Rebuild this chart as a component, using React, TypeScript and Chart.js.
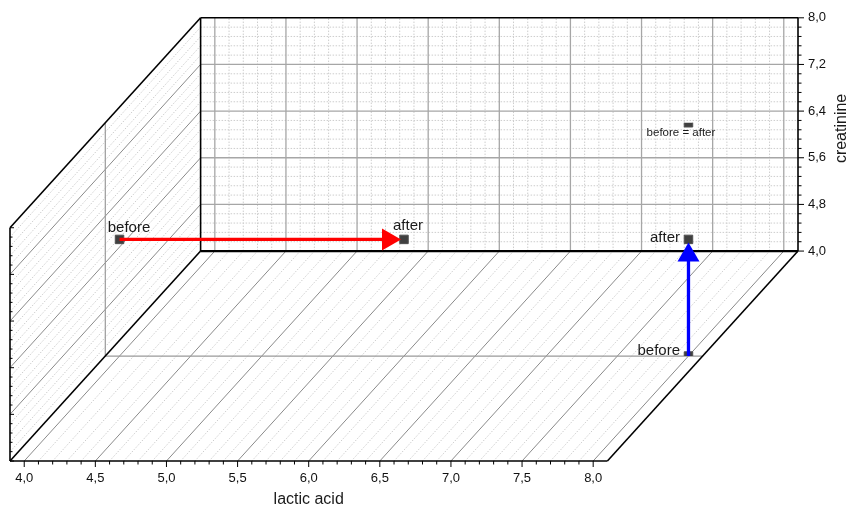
import React, { useEffect, useRef } from 'react';
import { Chart, registerables } from 'chart.js';

Chart.register(...registerables);

// ---- axis ranges & ticks ----
const LACTIC_MIN = 3.9;
const LACTIC_MAX = 8.1;
const CREATININE_MIN = 4.0;
const CREATININE_MAX = 8.0;
const lacticTicks = [4.0, 4.5, 5.0, 5.5, 6.0, 6.5, 7.0, 7.5, 8.0];
const creatinineTicks = [4.0, 4.8, 5.6, 6.4, 7.2, 8.0];
const LACTIC_MINOR_STEP = 0.1;
const CREATININE_MINOR_STEP = 0.16;

// ---- data (all points lie on the middle depth plane) ----
const pointLabels = ['before', 'after', 'before', 'after', 'before = after'];
const lacticAcid = [4.0, 6.0, 8.0, 8.0, 8.0];
const creatinine = [6.0, 6.0, 4.0, 6.0, 8.0];
const PLANE_DEPTH = 0.5;
const arrowFrom = [0, 2];
const arrowTo = [1, 3];

// ---- projection of the depth axis (in axis units) ----
const DEPTH_DX = 1.34; // lactic-acid units shift from front to back
const DEPTH_DY = 3.6; // creatinine units shift from front to back

// ---- styles ----
const FONT = "'Liberation Sans', Arial, Helvetica, sans-serif";
const arrowColors = ['#ff0000', '#0000ff'];
const labelStyle = [
  { dx: 9.5, dy: -12, align: 'center', size: 15 },
  { dx: 4, dy: -14, align: 'center', size: 15 },
  { dx: -8.5, dy: -5.5, align: 'right', size: 15 },
  { dx: -8.5, dy: -1.5, align: 'right', size: 15 },
  { dx: -7.5, dy: 10, align: 'center', size: 11.5 },
];

const fmt = (v: number) => v.toFixed(1).replace('.', ',');

function minorValues(min: number, max: number, step: number, majors: number[]) {
  const out: number[] = [];
  const start = majors[0];
  for (let k = -50; k <= 200; k++) {
    const v = +(start + k * step).toFixed(4);
    if (v <= min + 1e-6 || v >= max - 1e-6) continue;
    if (majors.some((m) => Math.abs(m - v) < 1e-6)) continue;
    out.push(v);
  }
  return out;
}

const lacticMinor = minorValues(LACTIC_MIN, LACTIC_MAX, LACTIC_MINOR_STEP, lacticTicks);
const creatinineMinor = minorValues(CREATININE_MIN, CREATININE_MAX, CREATININE_MINOR_STEP, creatinineTicks);

const project = (la: number, cr: number, d: number) => ({
  x: la + d * DEPTH_DX,
  y: cr - (1 - d) * DEPTH_DY,
});

function px(chart: any, la: number, cr: number, d: number): [number, number] {
  const p = project(la, cr, d);
  return [chart.scales.x.getPixelForValue(p.x), chart.scales.y.getPixelForValue(p.y)];
}

function seg(ctx: CanvasRenderingContext2D, a: [number, number], b: [number, number]) {
  ctx.beginPath();
  ctx.moveTo(a[0], a[1]);
  ctx.lineTo(b[0], b[1]);
  ctx.stroke();
}

const boxPlugin = {
  id: 'box3d',
  beforeDatasetsDraw(chart: any) {
    const ctx: CanvasRenderingContext2D = chart.ctx;
    ctx.save();
    ctx.lineCap = 'butt';
    // minor dotted grid
    ctx.strokeStyle = '#cdcdcd';
    ctx.lineWidth = 1;
    ctx.setLineDash([1.5, 1.5]);
    lacticMinor.forEach((la) => {
      seg(ctx, px(chart, la, CREATININE_MIN, 1), px(chart, la, CREATININE_MAX, 1));
      seg(ctx, px(chart, la, CREATININE_MIN, 0), px(chart, la, CREATININE_MIN, 1));
    });
    creatinineMinor.forEach((cr) => {
      seg(ctx, px(chart, LACTIC_MIN, cr, 1), px(chart, LACTIC_MAX, cr, 1));
      seg(ctx, px(chart, LACTIC_MIN, cr, 0), px(chart, LACTIC_MIN, cr, 1));
    });
    ctx.setLineDash([]);
    // major grid: back wall
    ctx.strokeStyle = '#a6a6a6';
    ctx.lineWidth = 1.3;
    lacticTicks.forEach((la) => {
      seg(ctx, px(chart, la, CREATININE_MIN, 1), px(chart, la, CREATININE_MAX, 1));
    });
    creatinineTicks.forEach((cr) => {
      if (cr === CREATININE_MIN || cr === CREATININE_MAX) return;
      seg(ctx, px(chart, LACTIC_MIN, cr, 1), px(chart, LACTIC_MAX, cr, 1));
    });
    // major grid: floor and left wall
    ctx.strokeStyle = '#8a8a8a';
    ctx.lineWidth = 1;
    lacticTicks.forEach((la) => {
      seg(ctx, px(chart, la, CREATININE_MIN, 0), px(chart, la, CREATININE_MIN, 1));
    });
    creatinineTicks.forEach((cr) => {
      if (cr === CREATININE_MIN || cr === CREATININE_MAX) return;
      seg(ctx, px(chart, LACTIC_MIN, cr, 0), px(chart, LACTIC_MIN, cr, 1));
    });
    // middle plane outline
    ctx.strokeStyle = '#9a9a9a';
    ctx.lineWidth = 1.2;
    seg(ctx, px(chart, LACTIC_MIN, CREATININE_MIN, PLANE_DEPTH), px(chart, LACTIC_MIN, CREATININE_MAX, PLANE_DEPTH));
    seg(ctx, px(chart, LACTIC_MIN, CREATININE_MIN, PLANE_DEPTH), px(chart, LACTIC_MAX, CREATININE_MIN, PLANE_DEPTH));
    // box edges
    ctx.strokeStyle = '#000';
    ctx.lineWidth = 1.6;
    const L = LACTIC_MIN, R = LACTIC_MAX, B = CREATININE_MIN, T = CREATININE_MAX;
    seg(ctx, px(chart, L, T, 1), px(chart, R, T, 1));
    seg(ctx, px(chart, L, B, 1), px(chart, L, T, 1));
    seg(ctx, px(chart, R, B, 1), px(chart, R, T, 1));
    seg(ctx, px(chart, L, T, 0), px(chart, L, T, 1));
    seg(ctx, px(chart, L, B, 0), px(chart, L, T, 0));
    seg(ctx, px(chart, L, B, 0), px(chart, L, B, 1));
    seg(ctx, px(chart, R, B, 0), px(chart, R, B, 1));
    seg(ctx, px(chart, L, B, 0), px(chart, R, B, 0));
    ctx.lineWidth = 2.2;
    seg(ctx, px(chart, L, B, 1), px(chart, R, B, 1));
    // tick marks
    ctx.lineWidth = 1;
    lacticTicks.concat(lacticMinor).forEach((la) => {
      const major = lacticTicks.includes(la);
      const p = px(chart, la, B, 0);
      seg(ctx, [p[0], p[1]], [p[0], p[1] + (major ? 6 : 3.5)]);
    });
    creatinineTicks.concat(creatinineMinor).forEach((cr) => {
      const major = creatinineTicks.includes(cr);
      const p = px(chart, R, cr, 1);
      seg(ctx, [p[0], p[1]], [p[0] + (major ? 6 : 3.5), p[1]]);
      const q = px(chart, L, cr, 0);
      seg(ctx, [q[0], q[1]], [q[0] + (major ? 4 : 2.5), q[1]]);
    });
    ctx.restore();
  },
  beforeDatasetDraw(chart: any, args: any) {
    if (args.index !== 0) return;
    const ctx: CanvasRenderingContext2D = chart.ctx;
    const top = px(chart, LACTIC_MIN, CREATININE_MAX, PLANE_DEPTH)[1];
    const bottom = px(chart, LACTIC_MIN, CREATININE_MIN, PLANE_DEPTH)[1];
    ctx.save();
    ctx.beginPath();
    ctx.rect(chart.chartArea.left, top, chart.chartArea.right - chart.chartArea.left, bottom - top);
    ctx.clip();
  },
  afterDatasetDraw(chart: any, args: any) {
    if (args.index !== 0) return;
    chart.ctx.restore();
  },
  afterDatasetsDraw(chart: any) {
    const ctx: CanvasRenderingContext2D = chart.ctx;
    ctx.save();
    // arrows
    arrowFrom.forEach((fi, k) => {
      const ti = arrowTo[k];
      const a = px(chart, lacticAcid[fi], creatinine[fi], PLANE_DEPTH);
      const b = px(chart, lacticAcid[ti], creatinine[ti], PLANE_DEPTH);
      const len = Math.hypot(b[0] - a[0], b[1] - a[1]);
      const ux = (b[0] - a[0]) / len, uy = (b[1] - a[1]) / len;
      const tip: [number, number] = [b[0] - ux * 3, b[1] - uy * 3];
      const base: [number, number] = [tip[0] - ux * 19, tip[1] - uy * 19];
      const nx = -uy, ny = ux;
      ctx.strokeStyle = arrowColors[k];
      ctx.fillStyle = arrowColors[k];
      ctx.lineWidth = 3.3;
      seg(ctx, a, [base[0] + ux, base[1] + uy]);
      ctx.beginPath();
      ctx.moveTo(tip[0], tip[1]);
      ctx.lineTo(base[0] + nx * 11, base[1] + ny * 11);
      ctx.lineTo(base[0] - nx * 11, base[1] - ny * 11);
      ctx.closePath();
      ctx.fill();
    });
    // point labels
    ctx.fillStyle = '#1a1a1a';
    ctx.textBaseline = 'middle';
    pointLabels.forEach((t, i) => {
      const s = labelStyle[i];
      const p = px(chart, lacticAcid[i], creatinine[i], PLANE_DEPTH);
      ctx.font = `${s.size}px ${FONT}`;
      ctx.textAlign = s.align as CanvasTextAlign;
      ctx.fillText(t, p[0] + s.dx, p[1] + s.dy);
    });
    // axis titles
    ctx.font = `16px ${FONT}`;
    ctx.textAlign = 'center';
    const fl = px(chart, LACTIC_MIN, CREATININE_MIN, 0);
    const fr = px(chart, LACTIC_MAX, CREATININE_MIN, 0);
    ctx.fillText('lactic acid', (fl[0] + fr[0]) / 2, chart.chartArea.bottom + 39);
    const at = px(chart, LACTIC_MAX, CREATININE_MAX, 1);
    const ab = px(chart, LACTIC_MAX, CREATININE_MIN, 1);
    ctx.translate(chart.chartArea.right + 44, (at[1] + ab[1]) / 2 - 6);
    ctx.rotate(-Math.PI / 2);
    ctx.fillText('creatinine', 0, 0);
    ctx.restore();
  },
};

export default function App() {
  const ref = useRef<HTMLCanvasElement>(null);
  useEffect(() => {
    if (!ref.current) return;
    Chart.defaults.font.family = FONT;
    const points = lacticAcid.map((la, i) => project(la, creatinine[i], PLANE_DEPTH));
    const chart = new Chart(ref.current, {
      type: 'scatter',
      data: {
        datasets: [
          {
            data: points,
            pointStyle: 'rect',
            pointRadius: 6,
            pointHoverRadius: 6,
            backgroundColor: '#404040',
            borderColor: '#505050',
            borderWidth: 1,
            showLine: false,
          },
        ],
      },
      options: {
        animation: false,
        responsive: false,
        events: [],
        layout: { padding: { left: 10, top: 15, right: 0, bottom: 0 } },
        plugins: { legend: { display: false }, tooltip: { enabled: false } },
        scales: {
          x: {
            type: 'linear',
            position: 'bottom',
            min: LACTIC_MIN,
            max: LACTIC_MAX + DEPTH_DX,
            afterBuildTicks: (s: any) => {
              s.ticks = lacticTicks.map((v) => ({ value: v }));
            },
            afterFit: (s: any) => {
              s.height = 47;
            },
            grid: { display: false, drawTicks: false },
            border: { display: false },
            ticks: {
              autoSkip: false,
              maxRotation: 0,
              padding: 10,
              color: '#111',
              font: { size: 13, family: FONT },
              callback: (v: any) => fmt(Number(v)),
            },
          },
          y: {
            type: 'linear',
            position: 'right',
            min: CREATININE_MIN - DEPTH_DY,
            max: CREATININE_MAX,
            afterBuildTicks: (s: any) => {
              s.ticks = creatinineTicks.map((v) => ({ value: v }));
            },
            afterFit: (s: any) => {
              s.width = 49;
            },
            grid: { display: false, drawTicks: false },
            border: { display: false },
            ticks: {
              autoSkip: false,
              padding: 10,
              color: '#111',
              font: { size: 13, family: FONT },
              callback: (v: any) => fmt(Number(v)),
            },
          },
        },
      },
      plugins: [boxPlugin],
    } as any);
    return () => chart.destroy();
  }, []);
  return (
    <div style={{ position: 'absolute', left: 0, top: 0, width: 847, height: 508, background: '#fff' }}>
      <canvas ref={ref} width={847} height={508} style={{ display: 'block' }} />
    </div>
  );
}
